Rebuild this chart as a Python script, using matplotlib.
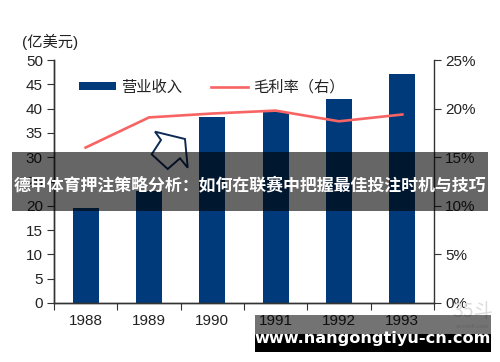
import matplotlib
matplotlib.use('Agg')
import matplotlib.pyplot as plt
from matplotlib.patches import Rectangle, Polygon
from matplotlib.ticker import FuncFormatter, MultipleLocator, FixedLocator
import numpy as np

plt.rcParams['font.family'] = ['Liberation Sans', 'Noto Sans CJK SC', 'DejaVu Sans']

# data
years = ['1988', '1989', '1990', '1991', '1992', '1993']
revenue = [19.5, 23.0, 38.3, 39.4, 41.9, 47.2]        # 亿美元
margin = [0.160, 0.191, 0.195, 0.198, 0.187, 0.194]  # 毛利率

banner_text = '德甲体育押注策略分析：如何在联赛中把握最佳投注时机与技巧'
site_text = 'www.nangongtiyu-cn.com'

navy = '#003a7a'
red = '#f86464'
ink = '#222222'

fig = plt.figure(figsize=(5, 3.62), dpi=100)
ax = fig.add_axes([0.108, 0.163, 0.760, 0.671])
ax2 = ax.twinx()

x = np.arange(len(years))
bars = ax.bar(x, revenue, width=0.41, color=navy, label='营业收入', zorder=2)
line, = ax2.plot(x, margin, color=red, lw=1.9, label='毛利率（右）', zorder=3)

ax.set_xlim(-0.5, len(years) - 0.5)
ax.set_ylim(0, 50)
ax.yaxis.set_major_locator(MultipleLocator(5))
ax2.set_ylim(0, 0.25)
ax2.yaxis.set_major_locator(MultipleLocator(0.05))
ax2.yaxis.set_major_formatter(FuncFormatter(lambda v, p: f'{v * 100:.0f}%'))

# category ticks sit on the boundaries, labels under the bars
ax.xaxis.set_major_locator(FixedLocator(np.arange(len(years) + 1) - 0.5))
ax.set_xticklabels([])
ax.xaxis.set_minor_locator(FixedLocator(x))
ax.set_xticklabels(years, minor=True)
ax.tick_params(axis='x', which='minor', length=0, pad=8, labelsize=11, labelcolor=ink)
ax.tick_params(axis='x', which='major', direction='out', length=5, color='#333333')
ax.tick_params(axis='y', direction='out', length=5, color='#333333', labelsize=11,
               labelcolor=ink, pad=3)
ax2.tick_params(axis='y', direction='out', length=5, color='#333333', labelsize=11,
                labelcolor=ink, pad=3)

for a in (ax, ax2):
    a.spines['top'].set_visible(False)
    for s in ('left', 'right', 'bottom'):
        a.spines[s].set_color('#333333')
        a.spines[s].set_linewidth(1.0)
ax.spines['right'].set_visible(False)

fig.text(0.044, 0.884, '(亿美元)', fontsize=11, color=ink, va='center', ha='left')

ax.legend([bars, line], ['营业收入', '毛利率（右）'], ncol=2, frameon=False,
          loc='upper left', bbox_to_anchor=(0.03, 0.975), fontsize=11,
          handlelength=2.4, handleheight=0.45, columnspacing=1.9, handletextpad=0.35,
          labelcolor=ink)

# arrow icon (pixel coords -> figure fraction)
arrow_px = [(155, 131.7), (185, 139), (187.7, 167.7), (180, 158.3),
            (167.7, 169), (151.7, 154.3), (161, 140)]
arrow = Polygon([(px / 500, 1 - py / 362) for px, py in arrow_px], closed=True,
                transform=fig.transFigure, facecolor='white', edgecolor='#0d2a55',
                lw=1.4, zorder=5)
fig.patches.append(arrow)

# dark banner with title
fig.patches.append(Rectangle((0.024, 0.418), 0.952, 0.162, transform=fig.transFigure,
                             facecolor='black', alpha=0.6, lw=0, zorder=6))
fig.text(0.5, 0.488, banner_text, fontsize=12.2, fontweight='bold', color='white',
         ha='center', va='center', family=['Noto Sans CJK SC', 'DejaVu Sans'], zorder=7)

# faint logo
fig.text(0.945, 0.14, '35斗', fontsize=14, color='#dddddd', ha='center', va='center',
         family=['Noto Sans CJK SC', 'DejaVu Sans'], zorder=4)
fig.text(0.945, 0.098, 'vccorth.com', fontsize=4.5, color='#dddddd', ha='center',
         va='center', zorder=4)

# site watermark
fig.patches.append(Rectangle((0.510, 0.075), 0.472, 0.055, transform=fig.transFigure,
                             facecolor='black', alpha=0.55, lw=0, zorder=6))
fig.patches.append(Rectangle((0.510, 0.028), 0.472, 0.048, transform=fig.transFigure,
                             facecolor='black', lw=0, zorder=6))
fig.text(0.745, 0.066, site_text, fontsize=11.6, fontweight='bold', color='white',
         ha='center', va='center', family='DejaVu Sans', zorder=7)

fig.savefig('out.png', dpi=100)
